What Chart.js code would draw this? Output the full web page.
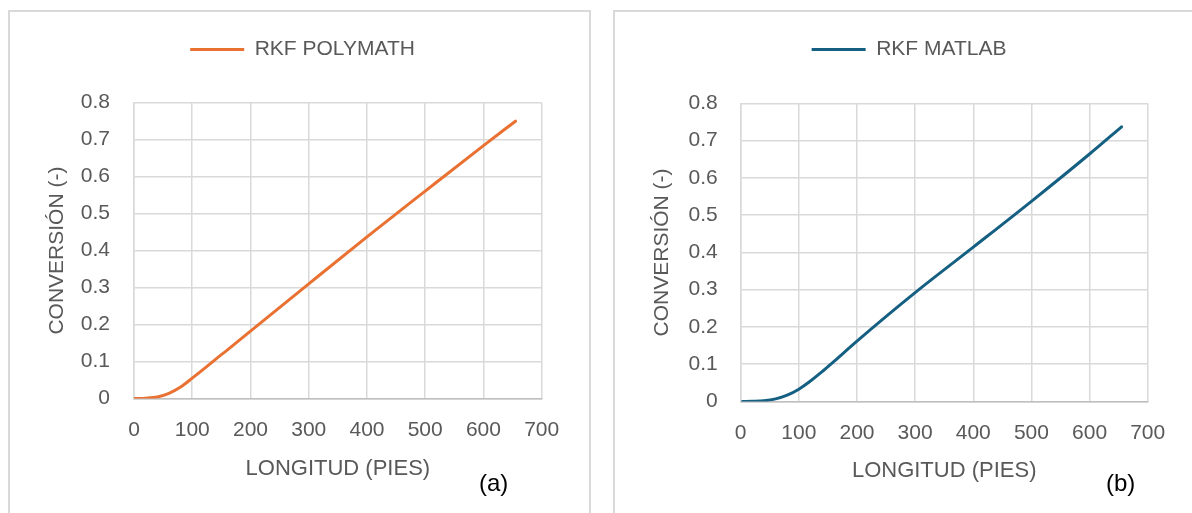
<!DOCTYPE html>
<html>
<head>
<meta charset="utf-8">
<script src="https://cdn.jsdelivr.net/npm/chart.js@4"></script>
<style>
  html, body { margin: 0; padding: 0; background: #fff; }
  body { width: 1192px; height: 513px; overflow: hidden; position: relative; font-family: "Liberation Sans", Arial, sans-serif; }
  .panel { position: absolute; border: 2px solid #d9d9d9; border-bottom: none; background: #fff; }
  .panel canvas { position: absolute; left: 0; top: 0; }
  .tag { position: absolute; font-size: 24px; color: #000; }
</style>
</head>
<body>
<div class="panel" style="left:8px; top:10px; width:579px; height:520px;">
  <canvas id="chartA" width="579" height="501"></canvas>
</div>
<div class="panel" style="left:613px; top:10px; width:600px; height:520px; border-right:none;">
  <canvas id="chartB" width="577" height="501"></canvas>
</div>
<div class="tag" style="left:479px; top:469px;">(a)</div>
<div class="tag" style="left:1106px; top:469px;">(b)</div>

<script>
'use strict';

// length along the reactor (ft) and conversion for each solver
const polyLength = [0, 20, 40, 60, 80, 100, 120, 140, 160, 200, 300, 400, 500, 600, 655];
const polyConversion = [0, 0.0008, 0.004, 0.014, 0.031, 0.055, 0.08, 0.106, 0.131, 0.182, 0.31, 0.437, 0.561, 0.684, 0.75];

const matlabLength = [3, 20, 40, 60, 80, 100, 120, 140, 160, 200, 300, 400, 500, 600, 655];
const matlabConversion = [0, 0.0005, 0.002, 0.007, 0.017, 0.033, 0.055, 0.08, 0.107, 0.162, 0.292, 0.414, 0.537, 0.664, 0.737];

const xMax = 700, xStep = 100;
const yMax = 0.8, yStep = 0.1;

const textGray = '#595959';
const gridGray = '#d9d9d9';
const fontFamily = '"Liberation Sans", Arial, sans-serif';

// nudges the legend box after layout so it sits where we want it
const legendSpot = {
  id: 'legendSpot',
  afterLayout(chart, args, opts) {
    const lg = chart.legend;
    if (!lg) return;
    lg.left += opts.dx; lg.right += opts.dx;
    lg.top += opts.dy; lg.bottom += opts.dy;
  }
};

function toPoints(xs, ys) {
  let pts = [];
  for (let i = 0; i < xs.length; i++) {
    pts.push({x: xs[i], y: ys[i]});
  }
  return pts;
}

function makeChart(id, label, xs, ys, color, lay) {
  let canvasElem = document.getElementById(id);
  return new Chart(canvasElem, {
    type: 'line',
    data: {
      datasets: [{
        label: label,
        data: toPoints(xs, ys),
        borderColor: color,
        backgroundColor: color,
        borderWidth: 3,
        borderCapStyle: 'round',
        pointRadius: 0,
        cubicInterpolationMode: 'monotone',
        fill: false
      }]
    },
    plugins: [legendSpot],
    options: {
      responsive: false,
      animation: false,
      events: [],
      layout: { padding: lay.padding },
      plugins: {
        tooltip: { enabled: false },
        legendSpot: { dx: lay.legendDx, dy: lay.legendDy },
        legend: {
          position: 'top',
          labels: {
            usePointStyle: true,
            pointStyle: 'line',
            pointStyleWidth: 54,
            color: textGray,
            padding: 10,
            font: { family: fontFamily, size: 21 }
          }
        }
      },
      scales: {
        x: {
          type: 'linear',
          min: 0,
          max: xMax,
          afterFit: s => { s.height = lay.xHeight; },
          ticks: {
            stepSize: xStep,
            color: textGray,
            padding: lay.xTickPad,
            maxRotation: 0,
            font: { family: fontFamily, size: 21 }
          },
          grid: { color: gridGray, lineWidth: 1.5, drawTicks: false },
          border: { color: '#bfbfbf', width: 1.5 },
          title: {
            display: true,
            text: 'LONGITUD (PIES)',
            color: textGray,
            padding: 0,
            font: { family: fontFamily, size: 22, lineHeight: 1.2 }
          }
        },
        y: {
          min: 0,
          max: yMax,
          afterFit: s => { s.width = lay.yWidth; },
          ticks: {
            stepSize: yStep,
            color: textGray,
            padding: lay.yTickPad,
            font: { family: fontFamily, size: 21 }
          },
          grid: { color: gridGray, lineWidth: 1.5, drawTicks: false },
          border: { color: gridGray, width: 1.5 },
          title: {
            display: true,
            text: 'CONVERSIÓN (-)',
            color: textGray,
            padding: 0,
            font: { family: fontFamily, size: 21, lineHeight: 1.2 }
          }
        }
      }
    }
  });
}

makeChart('chartA', 'RKF POLYMATH', polyLength, polyConversion, '#E97132', {
  padding: { left: 34.4, right: 47.3, top: 49.7, bottom: 31 },
  yWidth: 89.6, xHeight: 83.5, yTickPad: 24, xTickPad: 19,
  legendDx: 9.5, legendDy: -32.7
});

makeChart('chartB', 'RKF MATLAB', matlabLength, matlabConversion, '#156082', {
  padding: { left: 34.4, right: 44.3, top: 50.3, bottom: 29 },
  yWidth: 91.3, xHeight: 82.5, yTickPad: 23, xTickPad: 19,
  legendDx: 10.5, legendDy: -33.3
});
</script>
</body>
</html>
